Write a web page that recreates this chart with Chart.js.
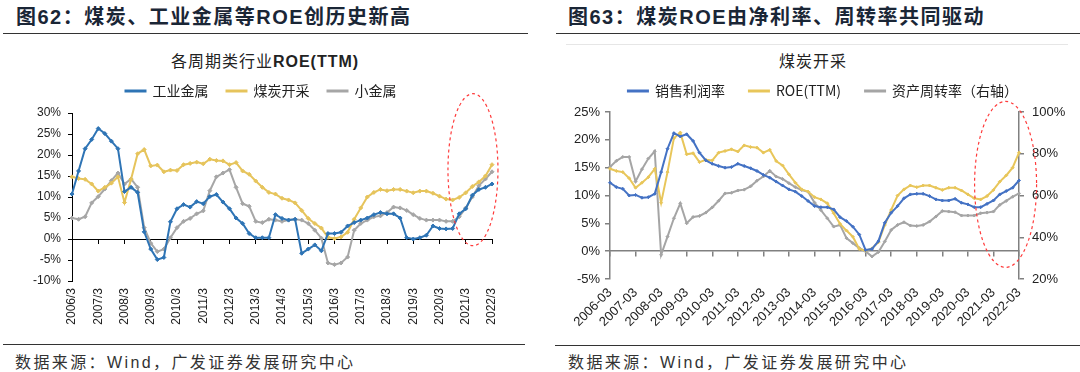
<!DOCTYPE html>
<html>
<head>
<meta charset="utf-8">
<script src="https://cdn.jsdelivr.net/npm/chart.js@4.4.1/dist/chart.umd.min.js"></script>
<style>
  body { margin: 0; background: #fff; }
  #wrap { position: relative; width: 1080px; height: 372px; overflow: hidden;
    font-family: "Liberation Sans", "Noto Sans CJK SC", sans-serif; }
  .head { position: absolute; top: 4px; font-size: 20px; line-height: 26px; color: #1a2636;
    letter-spacing: 1.5px; white-space: nowrap; font-weight: bold; }
  .rule { position: absolute; height: 0; border-top: 1.5px solid #333; }
  .ctitle { position: absolute; top: 52px; font-size: 16px; line-height: 20px; color: #222;
    letter-spacing: 1px; text-align: center; white-space: nowrap; }
  .src { position: absolute; top: 353px; font-size: 16px; line-height: 20px; color: #333;
    letter-spacing: 2.4px; white-space: nowrap; }
  canvas { position: absolute; }
</style>
</head>
<body>
<div id="wrap">
  <div class="head" style="left:16px">图62：煤炭、工业金属等ROE创历史新高</div>
  <div class="rule" style="left:3px;width:525px;top:33px"></div>
  <div class="ctitle" style="left:0;width:530px">各周期类行业<b>ROE(TTM)</b></div>
  <canvas id="left" width="540" height="278" style="left:0;top:66px"></canvas>
  <div class="rule" style="left:3px;width:522px;top:344px"></div>
  <div class="src" style="left:15px">数据来源：Wind，广发证券发展研究中心</div>

  <div class="head" style="left:568px">图63：煤炭ROE由净利率、周转率共同驱动</div>
  <div class="rule" style="left:556px;width:524px;top:33px"></div>
  <div class="rule" style="left:566px;width:502px;top:44px;border-top:1px solid #e6e6e6"></div>
  <div class="ctitle" style="left:540px;width:546px">煤炭开采</div>
  <canvas id="right" width="540" height="284" style="left:540px;top:60px"></canvas>
  <div class="rule" style="left:555px;width:525px;top:345px"></div>
  <div class="src" style="left:568px">数据来源：Wind，广发证券发展研究中心</div>
</div>
<script>
const years = [2006, 2007, 2008, 2009, 2010, 2011, 2012, 2013, 2014, 2015, 2016, 2017, 2018, 2019, 2020, 2021, 2022];
const quarterMonths = [3, 6, 9, 12];

// 图62 (%)
const metalRoe = [10.7, 16.2, 21.5, 23.7, 26.3, 25.1, 23.3, 21.5, 11.3, 12.3,
  11.1, 1.7, -2.4, -4.9, -4.4, 4.1, 7.2, 8.2, 7.6, 8.9,
  8.4, 10.1, 10.6, 8.8, 7.2, 5.0, 3.7, 1.3, 0.3, 0.3,
  0.3, 5.8, 4.9, 4.5, 4.7, -3.4, -2.4, -1.4, -2.8, 1.3,
  1.3, 1.6, 3.1, 3.9, 4.5, 5.0, 5.8, 6.3, 6.0, 6.0,
  5.0, 0.3, 0.0, 0.3, 0.9, 3.1, 2.5, 2.4, 2.5, 6.0,
  7.2, 10.4, 11.8, 12.3, 13.1];
const coalRoe = [14.8, 14.4, 14.2, 13.1, 11.4, 12.3, 13.3, 14.8, 8.7, 14.2,
  20.3, 21.3, 17.4, 17.6, 16.0, 16.4, 16.3, 17.7, 18.0, 18.3,
  17.9, 19.0, 18.7, 18.6, 17.7, 18.2, 16.2, 15.4, 13.8, 12.3,
  11.1, 10.7, 9.7, 9.3, 8.6, 6.8, 4.9, 3.7, 2.6, 0.4,
  0.1, 0.5, 1.6, 4.7, 7.4, 10.0, 11.1, 11.8, 11.5, 11.8,
  11.8, 11.4, 11.0, 11.4, 11.4, 10.9, 10.2, 9.5, 9.3, 9.9,
  11.0, 12.5, 13.6, 15.0, 17.7];
const minorMetalRoe = [5.0, 4.7, 5.3, 8.6, 10.1, 11.9, 13.9, 15.7, 13.1, 14.3,
  12.3, 2.7, -1.0, -3.0, -2.4, 0.3, 2.7, 4.2, 4.9, 6.0,
  6.7, 11.5, 14.8, 15.7, 16.5, 12.3, 8.4, 7.8, 4.2, 3.9,
  4.7, 4.5, 4.2, 4.5, 4.7, 4.5, 3.7, 2.1, 0.2, -5.7,
  -6.1, -5.7, -4.3, 2.1, 3.7, 4.5, 5.3, 5.5, 6.3, 7.6,
  7.4, 6.8, 5.8, 4.9, 4.5, 4.5, 4.5, 4.2, 4.2, 5.3,
  7.4, 10.0, 12.7, 14.3, 16.0];

// 图63 (%), ROE 与图62 的煤炭开采相同
const coalMargin = [12.3, 11.5, 11.2, 10.0, 10.1, 9.6, 9.7, 10.3, 14.2, 18.4,
  21.2, 20.6, 21.0, 19.8, 17.7, 16.3, 15.7, 15.3, 15.0, 15.1,
  15.7, 15.3, 14.9, 14.4, 13.7, 13.2, 12.5, 11.8, 11.1, 10.7,
  9.9, 9.0, 8.1, 7.9, 7.9, 7.5, 6.1, 5.4, 4.4, 3.0,
  0.2, 0.4, 1.8, 5.1, 6.9, 8.1, 9.5, 10.2, 10.3, 10.3,
  9.9, 9.3, 9.1, 9.1, 9.4, 8.7, 8.4, 7.9, 7.9, 8.5,
  9.1, 10.2, 10.8, 11.4, 12.7];
const coalTurnover = [73.7, 76.6, 78.5, 78.5, 66.7, 72.6, 77.7, 81.2, 31.6, 40.3,
  49.1, 56.2, 46.7, 49.7, 50.2, 51.8, 54.3, 57.5, 61.0, 61.3,
  62.4, 62.8, 64.4, 67.1, 69.1, 71.8, 69.1, 67.9, 65.9, 64.0,
  62.6, 61.8, 56.6, 53.0, 49.1, 45.1, 45.9, 39.6, 37.2, 34.8,
  33.2, 30.8, 32.9, 38.0, 43.5, 45.9, 47.2, 45.6, 45.4, 45.9,
  47.5, 49.9, 52.6, 52.3, 52.0, 50.4, 50.4, 50.4, 51.5, 51.8,
  52.3, 55.5, 57.4, 59.4, 61.0];

const slashLabels = [];
const dashLabels = [];
years.forEach(y => quarterMonths.forEach(m => {
    if (y === 2022 && m > 3) return;
    slashLabels.push(`${y}/${m}`);
    dashLabels.push(`${y}-${String(m).padStart(2, '0')}`);
}));

const latin = '"Liberation Sans", "Noto Sans CJK SC", sans-serif';
const cjk = '"Noto Sans CJK SC", sans-serif';

// 图例与绘图区之间多留一点空
const legendGap = {
    id: 'legendGap',
    afterInit(chart, args, opts) {
        const legend = chart.legend;
        const fit = legend.fit;
        legend.fit = function () {
            fit.call(this);
            this.height += opts.extra || 0;
        };
    }
};

// 红色虚线椭圆
const ellipse = {
    id: 'ellipse',
    afterDraw(chart, args, opts) {
        const {ctx, scales} = chart;
        const cx = scales.x.getPixelForValue(opts.cx);
        const cy = scales.y.getPixelForValue(opts.cy);
        ctx.save();
        ctx.beginPath();
        ctx.setLineDash([3, 3]);
        ctx.strokeStyle = '#ff3b3b';
        ctx.lineWidth = 1.2;
        ctx.ellipse(cx, cy, opts.rx, opts.ry, 0, 0, Math.PI * 2);
        ctx.stroke();
        ctx.restore();
    }
};

function linha(label, data, color, radius, yAxisID) {
    return {
        label: label,
        data: data,
        borderColor: color,
        backgroundColor: color,
        borderWidth: 2,
        pointStyle: 'rectRot',
        pointRadius: radius,
        pointBorderWidth: 1,
        tension: 0,
        yAxisID: yAxisID || 'y'
    };
}

function yearTick(color) {
    return ctx => ctx.index % 4 === 0 ? color : 'rgba(0,0,0,0)';
}

new Chart(document.getElementById('left'), {
    type: 'line',
    data: {
        labels: slashLabels,
        datasets: [
            linha('工业金属', metalRoe, '#2e74b5', 2),
            linha('煤炭开采', coalRoe, '#e6c45c', 2),
            linha('小金属', minorMetalRoe, '#a6a6a6', 2)
        ]
    },
    plugins: [legendGap, ellipse],
    options: {
        responsive: false,
        animation: false,
        layout: { padding: { left: 30, right: 48, top: 0, bottom: 0 } },
        plugins: {
            legend: {
                position: 'top',
                labels: { boxWidth: 20, boxHeight: 1, padding: 18, color: '#222', font: { family: cjk, size: 14 } }
            },
            tooltip: { enabled: false },
            legendGap: { extra: 5 },
            ellipse: { cx: 61.1, cy: 16.5, rx: 25, ry: 76 }
        },
        scales: {
            x: {
                type: 'category',
                position: 'bottom',
                border: { display: false },
                grid: { display: false, drawTicks: false },
                ticks: {
                    autoSkip: false, maxRotation: 90, minRotation: 90, padding: 7,
                    color: '#222', font: { family: latin, size: 12 },
                    callback: (v, i) => i % 4 === 0 ? slashLabels[i] : ''
                },
                afterFit: s => { s.height = 63; }
            },
            x2: {
                type: 'category',
                axis: 'x',
                position: { y: 0 },
                border: { color: '#000', width: 1 },
                grid: { drawOnChartArea: false, drawTicks: true, tickLength: 4, tickColor: yearTick('#000') },
                ticks: { display: false, autoSkip: false }
            },
            y: {
                min: -10,
                max: 30,
                border: { color: '#000', width: 1 },
                grid: { drawOnChartArea: false, tickLength: 4, color: '#000' },
                ticks: {
                    stepSize: 5, padding: 7, color: '#222', font: { family: latin, size: 12 },
                    callback: v => v + '%'
                },
                afterFit: s => { s.width = 42; }
            }
        }
    }
});

new Chart(document.getElementById('right'), {
    type: 'line',
    data: {
        labels: dashLabels,
        datasets: [
            linha('销售利润率', coalMargin, '#4472c4', 1.5),
            linha('ROE(TTM)', coalRoe, '#e8c65a', 1.5),
            linha('资产周转率（右轴）', coalTurnover, '#a5a5a5', 1.5, 'y1')
        ]
    },
    plugins: [legendGap, ellipse],
    options: {
        responsive: false,
        animation: false,
        layout: { padding: { left: 26, right: 0, top: 0, bottom: 0 } },
        plugins: {
            legend: {
                position: 'top',
                labels: { boxWidth: 20, boxHeight: 1, padding: 24, color: '#222', font: { family: cjk, size: 14 } }
            },
            tooltip: { enabled: false },
            legendGap: { extra: 4 },
            ellipse: { cx: 61.9, cy: 12.0, rx: 31, ry: 83 }
        },
        scales: {
            x: {
                type: 'category',
                position: 'bottom',
                border: { display: false },
                grid: { display: false, drawTicks: false },
                ticks: {
                    autoSkip: false, maxRotation: 45, minRotation: 45, padding: 6,
                    color: '#222', font: { family: latin, size: 13 },
                    callback: (v, i) => i % 4 === 0 ? dashLabels[i] : ''
                },
                afterFit: s => { s.height = 65; }
            },
            x2: {
                type: 'category',
                axis: 'x',
                position: { y: 0 },
                border: { color: '#808080', width: 1.5 },
                grid: { drawOnChartArea: false, drawTicks: true, tickLength: 5, tickColor: yearTick('#808080'), lineWidth: 1.5 },
                ticks: { display: false, autoSkip: false }
            },
            y: {
                min: -5,
                max: 25,
                border: { color: '#808080', width: 1.5 },
                grid: { drawOnChartArea: false, tickLength: 5, color: '#808080', lineWidth: 1.5 },
                ticks: {
                    stepSize: 5, padding: 5, color: '#222', font: { family: latin, size: 13 },
                    callback: v => v + '%'
                },
                afterFit: s => { s.width = 44; }
            },
            y1: {
                position: 'right',
                min: 20,
                max: 100,
                border: { color: '#808080', width: 1.5 },
                grid: { drawOnChartArea: false, tickLength: 5, color: '#808080', lineWidth: 1.5 },
                ticks: {
                    stepSize: 20, padding: 8, color: '#222', font: { family: latin, size: 13 },
                    callback: v => v + '%'
                },
                afterFit: s => { s.width = 61; }
            }
        }
    }
});
</script>
</body>
</html>
